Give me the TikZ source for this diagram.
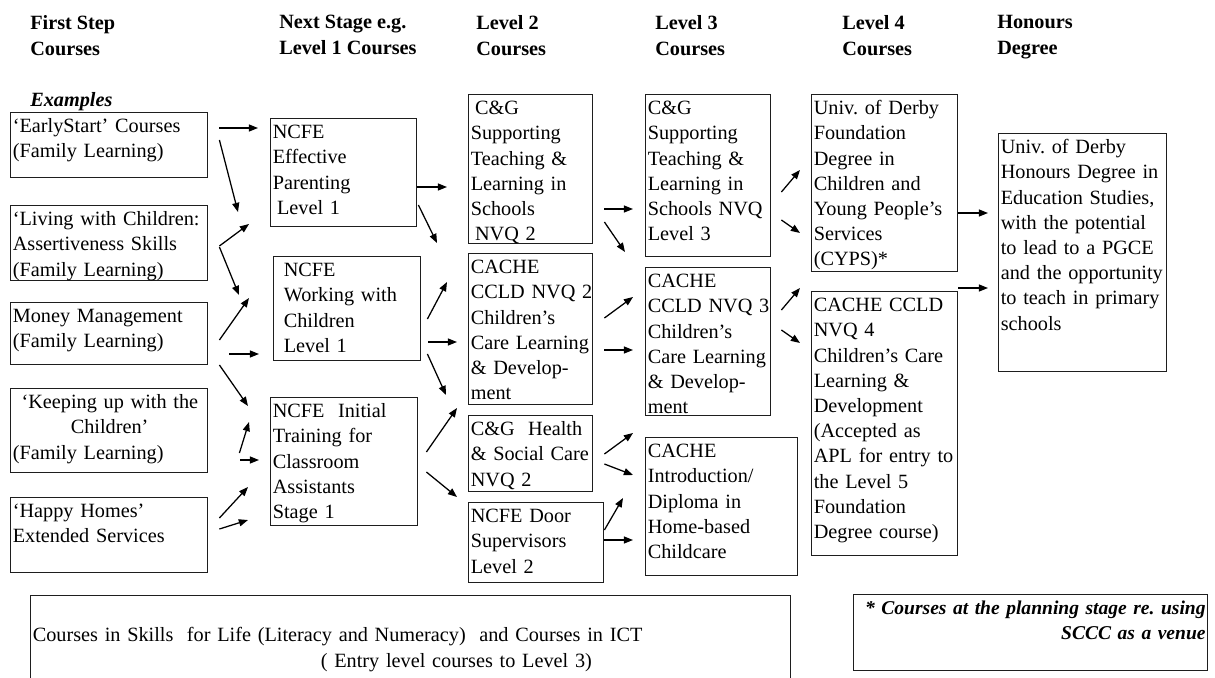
\documentclass[tikz,border=0pt]{standalone}
\usepackage{fontspec}
\setmainfont{Liberation Serif}
\usepackage{tikz}
\usetikzlibrary{arrows.meta}
\definecolor{ink}{HTML}{1E1E1E}
\newcommand\coursefont{\fontsize{14.4pt}{17.9pt}\selectfont\frenchspacing\hyphenpenalty=10000}
\newcommand\headfont{\fontsize{14.4pt}{18.5pt}\selectfont\bfseries}

\begin{document}
\begin{tikzpicture}[x=0.025cm,y=-0.025cm,
  course/.style 2 args={draw=ink,line width=1pt,anchor=north west,align=left,inner xsep=1.5pt,inner ysep=1.5pt,text width={#1*0.025cm-3pt},minimum width={#1*0.025cm},minimum height={#2*0.025cm},text height=0.45cm,text depth={#2*0.025cm-0.45cm-3pt},font=\coursefont},
  head/.style={anchor=north west,align=left,inner sep=0pt,font=\headfont},
  link/.style={-{Triangle[length=6.5pt,width=5pt]},draw=black,line width=0.9pt}]
\path[use as bounding box,fill=white] (0,0) rectangle (1215,677);
\clip (0,0) rectangle (1215,677);

\node[head] (hfirst) at (30,15) {First Step\\Courses};
\node[head] (hnext) at (279,15) {Next Stage e.g.\\Level 1 Courses};
\node[head] (hlevel2) at (476,15) {Level 2\\Courses};
\node[head] (hlevel3) at (655,15) {Level 3\\Courses};
\node[head] (hlevel4) at (842,15) {Level 4\\Courses};
\node[head] (hhonours) at (997,15) {Honours\\Degree};
\node[head,font=\headfont\itshape] (examples) at (30,92) {Examples};

\node[course={197}{65}] (early) at (10,112) {‘EarlyStart’ Courses\\(Family Learning)};
\node[course={197}{75}] (living) at (10,205) {‘Living with Children:\\Assertiveness Skills\\(Family Learning)};
\node[course={197}{62}] (money) at (10,302) {Money Management\\(Family Learning)};
\node[course={197}{84}] (keeping) at (10,388) {\hspace*{0.22cm}‘Keeping up with the\\\hspace*{1.45cm}Children’\\(Family Learning)};
\node[course={197}{75}] (happy) at (10,497) {‘Happy Homes’\\Extended Services};

\node[course={146}{108}] (parenting) at (270,118) {NCFE\\Effective\\Parenting\\\hspace*{3pt}Level 1};
\node[course={147}{104},text width=3.17cm] (working) at (273,256) {NCFE\\Working with\\Children\\Level 1};
\node[course={147}{128}] (initial) at (270,397) {NCFE\ \ Initial\\Training for\\Classroom\\Assistants\\Stage 1};

\node[course={124}{149}] (supp2) at (468,94) {\hspace*{3pt}C\&G\\Supporting\\Teaching \&\\Learning in\\Schools\\\hspace*{3pt}NVQ 2};
\node[course={124}{151}] (cache2) at (468,253) {CACHE\\CCLD~NVQ~2\\Children’s\\Care~Learning\\\& Develop-\\ment};
\node[course={124}{76}] (health) at (468,415) {C\&G\ \ Health\\\&~Social~Care\\NVQ 2};
\node[course={135}{80}] (door) at (468,502) {NCFE Door\\Supervisors\\Level 2};

\node[course={125}{162}] (supp3) at (645,94) {C\&G\\Supporting\\Teaching \&\\Learning in\\Schools~NVQ\\Level 3};
\node[course={125}{148}] (cache3) at (645,267) {CACHE\\CCLD~NVQ~3\\Children’s\\Care~Learning\\\& Develop-\\ment};
\node[course={152}{138}] (intro) at (645,437) {CACHE\\Introduction/\\Diploma in\\Home-based\\Childcare};

\node[course={146}{177}] (found) at (811,94) {Univ. of Derby\\Foundation\\Degree in\\Children and\\Young~People’s\\Services\\(CYPS)*};
\node[course={146}{264}] (cache4) at (811,291) {CACHE~CCLD\\NVQ 4\\Children’s~Care\\Learning \&\\Development\\(Accepted as\\APL~for~entry~to\\the Level 5\\Foundation\\Degree course)};
\node[course={168}{238}] (honours) at (998,133) {Univ. of Derby\\Honours~Degree~in\\Education~Studies,\\with the potential\\to lead to a PGCE\\and~the~opportunity\\to teach in primary\\schools};

\node[course={760}{100},text height=1.1cm] (skills) at (30,595) {Courses in Skills\ \ for Life (Literacy and Numeracy)\ \ and Courses in ICT\\\hspace*{7.2cm}( Entry level courses to Level 3)};
\node[course={354}{76},align=right,font=\coursefont\fontsize{13.9pt}{17.9pt}\selectfont\bfseries\itshape] (note) at (853,594) {* Courses at the planning stage re. using\\SCCC as a venue};

\draw[link] ([shift={(11,16)}]early.north east) -- ([shift={(-12,10)}]parenting.north west);
\draw[link] ([shift={(11,28)}]early.north east) -- ([shift={(-35,-44)}]working.north west);
\draw[link] ([shift={(11,41)}]living.north east) -- ([shift={(-21,106)}]parenting.north west);
\draw[link] ([shift={(11,42)}]living.north east) -- ([shift={(-34,39)}]working.north west);
\draw[link] ([shift={(11,38)}]money.north east) -- ([shift={(-24,42)}]working.north west);
\draw[link] ([shift={(21,52)}]money.north east) -- ([shift={(-14,98)}]working.north west);
\draw[link] ([shift={(11,63)}]money.north east) -- ([shift={(-22,9)}]initial.north west);
\draw[link] ([shift={(31,65)}]keeping.north east) -- ([shift={(-21,25)}]initial.north west);
\draw[link] ([shift={(32,72)}]keeping.north east) -- ([shift={(-11,63)}]initial.north west);
\draw[link] ([shift={(11,21)}]happy.north east) -- ([shift={(-22,90)}]initial.north west);
\draw[link] ([shift={(11,32)}]happy.north east) -- ([shift={(-22,123)}]initial.north west);

\draw[link] ([shift={(0,69)}]parenting.north east) -- ([shift={(-21,93)}]supp2.north west);
\draw[link] ([shift={(1,87)}]parenting.north east) -- ([shift={(-31,-10)}]cache2.north west);
\draw[link] ([shift={(6,63)}]working.north east) -- ([shift={(-21,29)}]cache2.north west);
\draw[link] ([shift={(7,86)}]working.north east) -- ([shift={(-11,89)}]cache2.north west);
\draw[link] ([shift={(6,98)}]working.north east) -- ([shift={(-22,-20)}]health.north west);
\draw[link] ([shift={(8,55)}]initial.north east) -- ([shift={(-11,-7)}]health.north west);
\draw[link] ([shift={(8,75)}]initial.north east) -- ([shift={(-11,-5)}]door.north west);

\draw[link] ([shift={(11,115)}]supp2.north east) -- ([shift={(-12,115)}]supp3.north west);
\draw[link] ([shift={(11,128)}]supp2.north east) -- ([shift={(-20,-15)}]cache3.north west);
\draw[link] ([shift={(11,65)}]cache2.north east) -- ([shift={(-12,30)}]cache3.north west);
\draw[link] ([shift={(11,97)}]cache2.north east) -- ([shift={(-12,83)}]cache3.north west);
\draw[link] ([shift={(11,39)}]health.north east) -- ([shift={(-12,-4)}]intro.north west);
\draw[link] ([shift={(11,49)}]health.north east) -- ([shift={(-12,38)}]intro.north west);
\draw[link] ([shift={(0,28)}]door.north east) -- ([shift={(-22,61)}]intro.north west);
\draw[link] ([shift={(0,38)}]door.north east) -- ([shift={(-12,103)}]intro.north west);

\draw[link] ([shift={(10,98)}]supp3.north east) -- ([shift={(-11,76)}]found.north west);
\draw[link] ([shift={(10,126)}]supp3.north east) -- ([shift={(-11,139)}]found.north west);
\draw[link] ([shift={(10,43)}]cache3.north east) -- ([shift={(-11,-3)}]cache4.north west);
\draw[link] ([shift={(10,63)}]cache3.north east) -- ([shift={(-11,52)}]cache4.north west);
\draw[link] ([shift={(0,119)}]found.north east) -- ([shift={(-10,80)}]honours.north west);
\draw[link] ([shift={(0,-3)}]cache4.north east) -- ([shift={(-10,155)}]honours.north west);
\end{tikzpicture}
\end{document}
